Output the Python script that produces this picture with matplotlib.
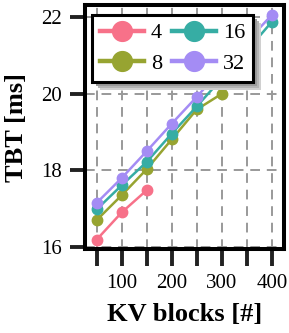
import matplotlib
matplotlib.use("Agg")
import matplotlib.pyplot as plt
from matplotlib.patches import Rectangle
from matplotlib.transforms import IdentityTransform
import seaborn as sns

kv_blocks = [50, 100, 150, 200, 250, 300, 350, 400]
series_names = ["4", "8", "16", "32"]
tbt_4 = [16.19, 16.90, 17.48]
tbt_8 = [16.70, 17.35, 18.03, 18.81, 19.59, 20.00]
tbt_16 = [16.98, 17.61, 18.22, 18.96, 19.67, 20.40, 21.12, 21.88]
tbt_32 = [17.15, 17.80, 18.50, 19.22, 19.92, 20.65, 21.36, 22.06]
x_tick_labels = ["", "100", "", "200", "", "300", "", "400"]
y_ticks = [16, 18, 20, 22]

plt.rcParams['font.family'] = ['Liberation Serif', 'DejaVu Serif']

colors = sns.color_palette("husl", 4)

fig = plt.figure(figsize=(2.89, 3.33), dpi=100)
ax = fig.add_axes([0.295, 0.2508, 0.981 - 0.295, 0.986 - 0.2508])

all_series = [tbt_4, tbt_8, tbt_16, tbt_32]
for name, vals, c in zip(series_names, all_series, colors):
    ax.plot(kv_blocks[:len(vals)], vals, marker='o', color=c, lw=1.8,
            markersize=7.5, label=name, zorder=3)

ax.set_xlim(27, 423.5)
ax.set_ylim(15.93, 22.33)
ax.set_xticks(kv_blocks)
ax.set_xticklabels(x_tick_labels)
ax.set_yticks(y_ticks)
ax.tick_params(axis='both', labelsize=15, width=2.8, color='#222222')
ax.tick_params(axis='x', length=12, pad=6)
ax.tick_params(axis='y', length=11, pad=6)
ax.grid(True, ls=(0, (5, 3.5)), color='#999999', lw=1.4, zorder=0)
for s in ax.spines.values():
    s.set_linewidth(2.9)
    s.set_color('black')

ax.set_xlabel("KV blocks [#]", fontsize=19, fontweight='bold', labelpad=7)
ax.set_ylabel("TBT [ms]", fontsize=19, fontweight='bold', labelpad=9)

leg = ax.legend(ncol=2, loc='upper left', bbox_to_anchor=(0.034, 0.958),
                borderaxespad=0, fontsize=16, handlelength=2.0,
                handletextpad=0.3, columnspacing=0.45, labelspacing=0.45,
                borderpad=0.35, markerscale=1.9, fancybox=False,
                framealpha=1)
leg.get_frame().set_edgecolor('black')
leg.get_frame().set_linewidth(2.2)
leg.set_zorder(6)
for l in leg.get_lines():
    l.set_linewidth(3.2)

fig.canvas.draw()
bb = leg.get_frame().get_window_extent()
for off, col in [(8, '#d0d0d0'), (6, '#b4b4b4'), (4, '#9a9a9a')]:
    ax.add_patch(Rectangle((bb.x0 + off, bb.y0 - off), bb.width, bb.height,
                           transform=IdentityTransform(), facecolor=col,
                           edgecolor='none', zorder=5.5, clip_on=False))

fig.savefig("out.png", dpi=100)
